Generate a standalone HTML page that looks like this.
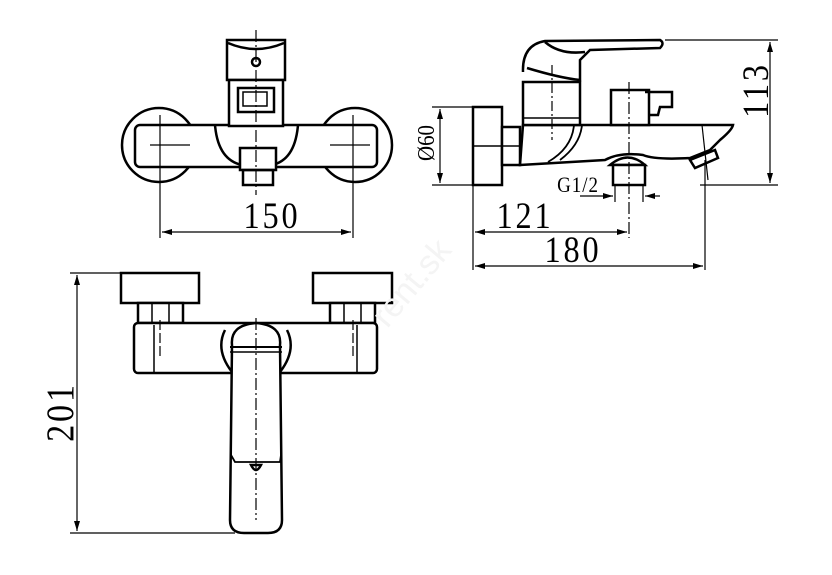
<!DOCTYPE html>
<html><head><meta charset="utf-8"><style>html,body{margin:0;padding:0;background:#fff}svg{display:block}</style></head><body>
<svg width="832" height="575" viewBox="0 0 832 575" xmlns="http://www.w3.org/2000/svg" font-family="Liberation Serif, serif">
<defs><marker id="a" viewBox="0 0 10 6" refX="10" refY="3" markerWidth="10" markerHeight="6" orient="auto-start-reverse" markerUnits="userSpaceOnUse"><path d="M0,0L10,3L0,6z" fill="#000"/></marker></defs>
<g fill="none" stroke="#000" stroke-width="2.5">
<circle cx="159" cy="145" r="37"/>
<circle cx="355" cy="145" r="37"/>
<rect x="135" y="125" width="242" height="42" rx="5" fill="#fff"/>
<path d="M215,125 Q218,160 242,165 M298,125 Q295,160 272,165"/>
<rect x="227" y="40" width="58" height="40" fill="#fff"/>
<path d="M228,43 Q256,55 284,43"/>
<circle cx="256" cy="62" r="4"/>
<rect x="229" y="80" width="54" height="46" fill="#fff"/>
<rect x="238" y="88" width="36" height="24"/>
<rect x="243" y="92" width="24" height="14" stroke-width="1.5"/>
<rect x="240" y="148" width="36" height="22" fill="#fff"/>
<rect x="243" y="170" width="30" height="15"/>
</g>
<g stroke="#000" stroke-width="1.2" fill="none">
<line x1="256" y1="30" x2="256" y2="195" stroke-dasharray="12,3,2,3"/>
<line x1="160" y1="115" x2="160" y2="238"/><line x1="353" y1="115" x2="353" y2="238"/>
<line x1="150" y1="145" x2="190" y2="145"/><line x1="330" y1="145" x2="370" y2="145"/>
<line x1="162" y1="232" x2="351" y2="232" marker-start="url(#a)" marker-end="url(#a)"/>
</g>
<g font-size="34" text-anchor="middle" letter-spacing="3">
<text transform="translate(272,228) scale(0.95,1.1)">150</text>
<text transform="translate(525,228) scale(0.95,1.1)">121</text>
<text transform="translate(573,262) scale(0.95,1.1)">180</text>
<text transform="translate(768,90) rotate(-90) scale(0.95,1.1)">113</text>
<text transform="translate(73,412) rotate(-90) scale(0.95,1.1)" font-size="36">201</text>
</g>
<g fill="none" stroke="#000" stroke-width="2.5">
<rect x="473" y="107" width="29" height="78" fill="#fff"/>
<line x1="473" y1="146" x2="502" y2="146" stroke-width="1.5"/>
<rect x="502" y="127" width="18" height="38" fill="#fff"/>
<line x1="502" y1="146" x2="520" y2="146" stroke-width="1.5"/>
<path d="M520,165 L605,160 Q620,152 643,155 Q655,160 690,158 L710,150 L720,140 Q732,130 733,125 L523,125 Z" fill="#fff"/>
<path d="M560,160 Q580,145 582,125 M548,162 Q572,148 574,125" stroke-width="1.8"/>
<rect x="523" y="82" width="57" height="43" fill="#fff"/>
<line x1="523" y1="118" x2="580" y2="118" stroke-width="1.5"/>
<path d="M523,72 Q522,45 545,41 L660,40 Q665,43 660,48 L590,50 Q585,55 580,60 L580,80 Q560,78 527,68" fill="#fff"/>
<path d="M545,42 Q560,55 585,52"/>
<rect x="611" y="90" width="38" height="35" fill="#fff"/>
<path d="M645,92 L672,92 L672,107 L660,107 L658,115 L648,115"/>
<path d="M610,165 Q628,150 645,165 Z" fill="#fff"/>
<rect x="613" y="165" width="32" height="20" fill="#fff"/>
<path d="M690,160 L715,150 L718,158 L695,168 Z" fill="#fff"/>
</g>
<g stroke="#000" stroke-width="1.2" fill="none">
<line x1="552" y1="65" x2="552" y2="140" stroke-dasharray="10,3,2,3"/>
<line x1="629" y1="82" x2="629" y2="238" stroke-dasharray="12,3,2,3"/>
<line x1="702" y1="125" x2="708" y2="180"/>
<line x1="665" y1="40" x2="778" y2="40"/><line x1="700" y1="185" x2="778" y2="185"/>
<line x1="770" y1="42" x2="770" y2="183" marker-start="url(#a)" marker-end="url(#a)"/>
<line x1="432" y1="107" x2="473" y2="107"/><line x1="432" y1="185" x2="473" y2="185"/>
<line x1="440" y1="109" x2="440" y2="183" marker-start="url(#a)" marker-end="url(#a)"/>
<line x1="473" y1="185" x2="473" y2="270"/><line x1="705" y1="160" x2="705" y2="270"/>
<line x1="615" y1="185" x2="615" y2="202"/><line x1="643" y1="185" x2="643" y2="202"/>
<line x1="580" y1="196" x2="613" y2="196" marker-end="url(#a)"/><line x1="660" y1="196" x2="645" y2="196" marker-end="url(#a)"/>
<line x1="475" y1="232" x2="627" y2="232" marker-start="url(#a)" marker-end="url(#a)"/>
<line x1="475" y1="266" x2="703" y2="266" marker-start="url(#a)" marker-end="url(#a)"/>
</g>
<text transform="translate(578,192) scale(0.95,1.1)" font-size="20" text-anchor="middle" letter-spacing="1">G1/2</text>
<text transform="translate(434,143) rotate(-90) scale(0.95,1.1)" font-size="22" text-anchor="middle">Ø60</text>
<g fill="none" stroke="#000" stroke-width="2.5">
<rect x="121" y="273" width="78" height="30" fill="#fff"/>
<rect x="313" y="273" width="79" height="30" fill="#fff"/>
<rect x="138" y="303" width="45" height="20" fill="#fff"/>
<rect x="330" y="303" width="45" height="20" fill="#fff"/>
<line x1="152" y1="303" x2="152" y2="323" stroke-width="1.5"/><line x1="169" y1="303" x2="169" y2="323" stroke-width="1.5"/>
<line x1="344" y1="303" x2="344" y2="323" stroke-width="1.5"/><line x1="361" y1="303" x2="361" y2="323" stroke-width="1.5"/>
<rect x="134" y="323" width="243" height="50" rx="4" fill="#fff"/>
<line x1="154" y1="325" x2="154" y2="372" stroke-width="1.5"/><line x1="357" y1="325" x2="357" y2="372" stroke-width="1.5"/>
<path d="M225,330 Q215,350 232,372 M287,330 Q297,350 280,372"/>
<path d="M232,345 Q230,325 256,323 Q282,325 280,345 L282,520 Q282,533 268,533 L244,533 Q230,533 230,520 Z" fill="#fff"/>
<line x1="230" y1="347" x2="282" y2="347" stroke-width="2"/>
<line x1="230" y1="352" x2="282" y2="352" stroke-width="1.5"/>
<path d="M231,455 L235,462 L280,462 L281,455" stroke-width="1.8"/>
<path d="M251,465 Q256,475 261,465 Z"/>
</g>
<g stroke="#000" stroke-width="1.2" fill="none">
<line x1="256" y1="318" x2="256" y2="520" stroke-dasharray="12,3,2,3"/>
<line x1="160" y1="320" x2="160" y2="358" stroke-dasharray="10,3"/>
<line x1="353" y1="320" x2="353" y2="358" stroke-dasharray="10,3"/>
<line x1="70" y1="273" x2="121" y2="273"/><line x1="70" y1="533" x2="235" y2="533"/>
<line x1="77" y1="275" x2="77" y2="531" marker-start="url(#a)" marker-end="url(#a)"/>
</g>
<text transform="translate(420,290) rotate(-50)" font-size="34" fill="#f4f4f4" text-anchor="middle" font-family="Liberation Sans, sans-serif">rent.sk</text>
</svg>
</body></html>
